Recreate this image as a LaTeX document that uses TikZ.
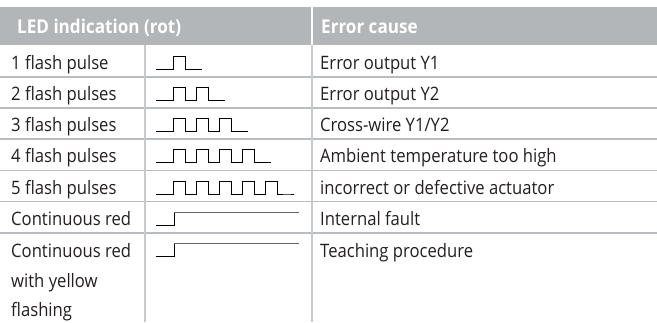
\documentclass[tikz,border=0pt]{standalone}
\usepackage{fontspec}
\setmainfont{Open Sans}[FakeStretch=0.9]
\usetikzlibrary{calc}
\definecolor{headgray}{RGB}{178,182,185}
\definecolor{rulegray}{RGB}{186,189,192}
\definecolor{colgray}{RGB}{200,201,203}
\definecolor{textgray}{RGB}{35,31,32}
\tikzset{
  cell/.style={anchor=base west, inner sep=0pt, text=textgray, font=\fontsize{18.5}{30}\selectfont},
  headcell/.style={cell, text=white, font=\fontsize{19}{30}\selectfont\bfseries},
  rowrule/.style={draw=rulegray, line width=1.6pt},
  colrule/.style={draw=colgray, line width=1.6pt},
  pulse/.style={draw=black, line width=0.9pt},
  steady/.style={draw=black!60, line width=1.3pt},
}
% #1 = baseline, #2 = number of flashes
\newcommand{\flashtrain}[2]{%
  \path[pulse] (156,#1) -- ++(17,0)
    \foreach \k in {1,...,#2}{ -- ++(0,-13) -- ++(12,0) -- ++(0,13) -- ++(11,0)} -- ++(6,0);}
% #1 = baseline
\newcommand{\steadyred}[1]{%
  \path[pulse] (156,#1) -- (174,#1) -- (174,#1-13);
  \path[steady] (174,#1-13) -- (299,#1-13);}

\begin{document}
\begin{tikzpicture}[x=1pt,y=-1pt]
  \useasboundingbox (0,0) rectangle (657,322);
  % header
  \path[fill=headgray] (0,7) rectangle (657,45);
  \path[draw=white, line width=2pt] (312,7) -- (312,45);
  \node[headcell] (hLED) at (17,33.5) {LED indication (rot)};
  \node[headcell] (hCause) at (321,33.5) {Error cause};
  % grid
  \foreach \r in {1,...,6}{
    \path[rowrule] (0,45.5+31.2*\r) -- (657,45.5+31.2*\r);
  }
  \path[colrule] (145,45) -- (145,322);
  \path[colrule] (312,45) -- (312,322);
  % rows
  \foreach \r/\led/\cause in {
      1/1 flash pulse/Error output Y1,
      2/2 flash pulses/Error output Y2,
      3/3 flash pulses/Cross-wire Y1\slash Y2,
      4/4 flash pulses/Ambient temperature too high,
      5/5 flash pulses/incorrect or defective actuator,
      6/Continuous red/Internal fault}{
    \node[cell] (led\r) at (11,38+31.2*\r) {\led};
    \node[cell] (cause\r) at (320,38+31.2*\r) {\cause};
  }
  \node[cell] (led7) at (11,257.5) {Continuous red};
  \node[cell] (cause7) at (320,257.5) {Teaching procedure};
  \node[cell] (led7b) at ($(led7.base west)+(0,29.5)$) {with yellow};
  \node[cell] (led7c) at ($(led7b.base west)+(0,29.5)$) {flashing};
  % signals
  \foreach \r in {1,...,5}{
    \flashtrain{38+31.2*\r}{\r}
  }
  \steadyred{225.5}
  \steadyred{256.7}
\end{tikzpicture}
\end{document}
